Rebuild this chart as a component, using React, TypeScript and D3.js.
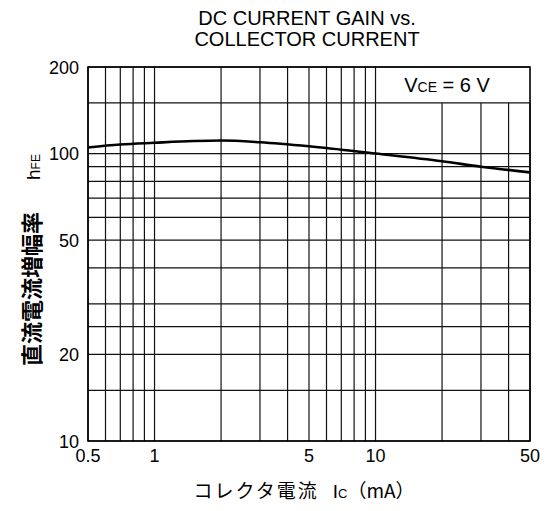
import React from 'react';
import * as d3 from 'd3';

// curve: hFE vs Ic (mA), VCE = 6 V
const currents = [0.5, 0.7, 1, 1.5, 2, 3, 5, 10, 20, 30, 50];
const gains = [105, 107.5, 109, 110.5, 111, 109.5, 106, 100, 94, 90, 86];

const xGrid = [0.5, 0.6, 0.7, 0.8, 0.9, 1, 2, 3, 4, 5, 6, 7, 8, 9, 10, 20, 30, 40, 50];
const yGrid = [10, 15, 20, 25, 30, 40, 50, 60, 70, 80, 90, 100, 150, 200];
const xTicks = [0.5, 1, 5, 10, 50];
const yTicks = [10, 20, 50, 100, 200];

const W = 545;
const H = 511;
const margin = { top: 67, right: 15, bottom: 70, left: 88 };
const font = '"Liberation Sans", Arial, sans-serif';
const jpFont = '"Noto Sans CJK JP", sans-serif';

const App = () => {
  const x = d3.scaleLog().domain([0.5, 50]).range([margin.left, W - margin.right]);
  const y = d3.scaleLog().domain([10, 200]).range([H - margin.bottom, margin.top]);

  const line = d3.line<number>()
    .x((_, i) => x(currents[i]))
    .y(d => y(d))
    .curve(d3.curveMonotoneX);

  return (
    <svg width={W} height={H} style={{ position: 'absolute', left: 0, top: 0, background: '#fff' }}>
      {/* title */}
      <text x={307} y={25} textAnchor="middle" fontFamily={font} fontSize={20}>DC CURRENT GAIN vs.</text>
      <text x={307} y={46} textAnchor="middle" fontFamily={font} fontSize={20}>COLLECTOR CURRENT</text>

      {/* grid */}
      {yGrid.map(v => (
        <line key={'h' + v} x1={x(0.5)} x2={x(50)} y1={y(v)} y2={y(v)} stroke="#111" strokeWidth={1.2} />
      ))}
      {xGrid.map(v => (
        <line key={'v' + v} x1={x(v)} x2={x(v)} y1={v > 10 ? y(150) : y(200)} y2={y(10)} stroke="#111" strokeWidth={1.2} />
      ))}
      <rect x={x(0.5)} y={y(200)} width={x(50) - x(0.5)} height={y(10) - y(200)} fill="none" stroke="#000" strokeWidth={1.6} />

      {/* VCE label */}
      <text x={447} y={92} textAnchor="middle" fontFamily={font} fontSize={20}>
        V<tspan fontSize={14}>CE</tspan> = 6 V
      </text>

      {/* curve */}
      <path d={line(gains) || ''} fill="none" stroke="#000" strokeWidth={2.6} />

      {/* y ticks */}
      {yTicks.map(v => (
        <text key={'yt' + v} x={x(0.5) - 9} y={y(v) + 6.5} textAnchor="end" fontFamily={font} fontSize={18}>{v}</text>
      ))}
      {/* x ticks */}
      {xTicks.map(v => (
        <text key={'xt' + v} x={x(v)} y={y(10) + 21} textAnchor="middle" fontFamily={font} fontSize={18}>{v}</text>
      ))}

      {/* y axis title */}
      <text transform="translate(40, 366) rotate(-90)" textAnchor="start" fontFamily={jpFont} fontSize={22} fontWeight={700}>
        直流電流増幅率<tspan dx={32} fontFamily={font} fontWeight={400} fontSize={19}>h</tspan><tspan fontFamily={font} fontWeight={400} fontSize={12}>FE</tspan>
      </text>

      {/* x axis title */}
      <text x={304} y={498} textAnchor="middle" fontFamily={jpFont} fontSize={19}>
        <tspan letterSpacing={2}>コレクタ電流</tspan><tspan dx={14} fontFamily={font}>I</tspan><tspan fontFamily={font} fontSize={13}>C</tspan>（mA）
      </text>
    </svg>
  );
};

export default App;
